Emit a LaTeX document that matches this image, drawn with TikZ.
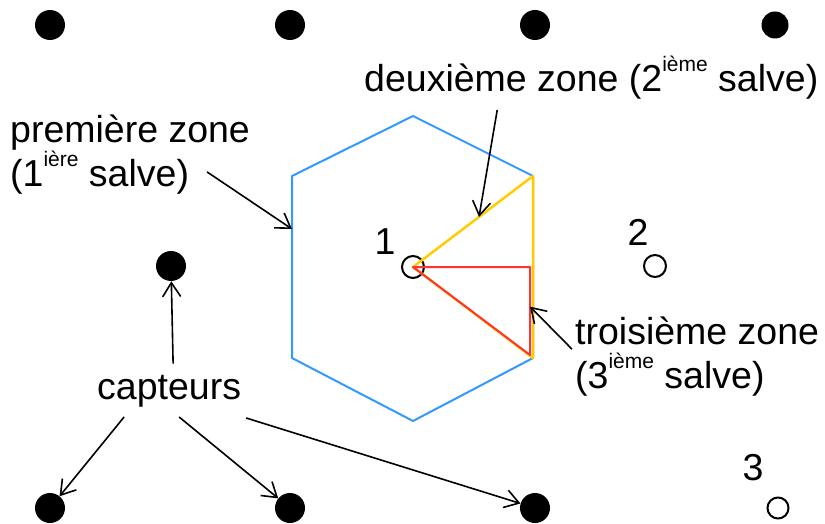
\documentclass[tikz,border=0pt]{standalone}
\usepackage{fontspec}
\setmainfont{Liberation Sans}
\usetikzlibrary{arrows.meta,positioning,calc}
\definecolor{Ink}{HTML}{000000}
\definecolor{ZoneBlue}{HTML}{3399FF}
\definecolor{ZoneGold}{HTML}{FFCC00}
\definecolor{ZoneRed}{HTML}{FF3333}
\newcommand{\expo}[1]{\raisebox{20pt}{\fontsize{21}{21}\selectfont #1}}

\begin{document}
\begin{tikzpicture}[x=1pt,y=-1pt,
  lbl/.style={font=\fontsize{37.5}{44}\selectfont,inner sep=3pt,text=Ink},
  sensor/.style={circle,fill=Ink,minimum size=30pt,inner sep=0pt},
  src/.style={circle,draw=Ink,line width=2pt,minimum size=22pt,inner sep=0pt},
  arr/.style={Ink,line width=1.6pt,-{Straight Barb[length=14pt,width=18pt]}}]
\useasboundingbox (0,0) rectangle (825,524);
% capteurs
\foreach \n/\x/\y in {t1/50/25,t2/290/25,t3/535/25,m1/171/266,b1/50/508,b2/290/508,b3/535/508} {\node[sensor] (\n) at (\x,\y) {};}
\node[sensor,minimum size=27pt] (t4) at (775,25) {};
% sources
\node[src] (c1) at (413,267) {};
\node[src] (c2) at (655,266) {};
\node[src,minimum size=21pt] (c3) at (778,508) {};
\node[lbl] (n1) at (385,242) {1};
\node[lbl] (n2) at (638,232) {2};
\node[lbl] (n3) at (753,468) {3};
% zones
\coordinate (hr1) at (533,176);
\coordinate (hr2) at (533,358);
\coordinate (rr1) at (530,267);
\coordinate (rr2) at (530,355);
\draw[ZoneBlue,line width=2pt,line join=round] (413,116) -- (hr1) -- (hr2) -- (413,421) -- (292,358) -- (292,176) -- cycle;
\draw[ZoneGold,line width=2.5pt,line join=round] (c1.center) -- (hr1) -- (hr2) -- cycle;
\draw[ZoneRed,line width=2pt,line join=round] (c1.center) -- (rr1) -- (rr2) -- cycle;
\coordinate (pz) at (292,229);
\coordinate (dz) at ($(c1.center)!0.55!(hr1)$);
\coordinate (tz) at ($(rr1)!0.45!(rr2)$);
% textes
\node[lbl,anchor=base west] (deu) at (361,92) {deuxième zone (2\expo{ième} salve)};
\node[lbl,anchor=base west,align=left] (pre) at (7,186) {première zone\\(1\expo{ière} salve)};
\node[lbl,anchor=base west,align=left] (tro) at (572,388) {troisième zone\\(3\expo{ième} salve)};
\node[lbl,anchor=base west] (cap) at (94,399) {capteurs};
% fleches
\draw[arr] ([xshift=-94pt,yshift=-7pt]deu.south) -- (dz);
\draw[arr] ([xshift=-46pt,yshift=25pt]pre.south east) -- (pz);
\draw[arr] ([yshift=-36pt]tro.north west) -- (tz);
\draw[arr] ([xshift=4pt,yshift=8pt]cap.north) -- (m1);
\draw[arr] ([xshift=-45pt,yshift=-7pt]cap.south) -- (b1);
\draw[arr] ([xshift=10pt,yshift=-7pt]cap.south) -- (b2);
\draw[arr] ([xshift=77pt,yshift=-8pt]cap.south) -- (b3);
\end{tikzpicture}
\end{document}
